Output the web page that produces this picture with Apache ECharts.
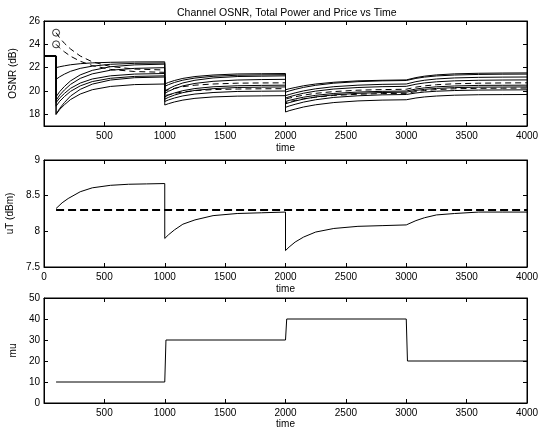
<!DOCTYPE html>
<html>
<head>
<meta charset="utf-8">
<script src="https://cdn.jsdelivr.net/npm/echarts@6/dist/echarts.min.js"></script>
<style>
  html, body { margin: 0; padding: 0; background: #fff; }
  #chart { width: 539px; height: 430px; }
</style>
</head>
<body>
<div id="chart"></div>
<script>
const osnrTime = [0, 100, 100, 130, 170, 220, 300, 400, 550, 750, 1000,
  1000, 1030, 1080, 1150, 1250, 1400, 1600, 1800, 2000,
  2000, 2030, 2080, 2150, 2250, 2400, 2600, 2800, 3000,
  3080, 3150, 3250, 3400, 3600, 3800, 4000];
const osnrCh1 = [23, 23, 22.0, 22.08, 22.16, 22.25, 22.34, 22.41, 22.46, 22.49, 22.5,
  20.6, 20.73, 20.9, 21.08, 21.24, 21.37, 21.46, 21.48, 21.5,
  20.1, 20.19, 20.3, 20.45, 20.6, 20.75, 20.87, 20.92, 20.95,
  21.15, 21.27, 21.38, 21.47, 21.52, 21.54, 21.55];
const osnrCh2 = [23, 23, 21.0, 21.22, 21.45, 21.69, 21.94, 22.13, 22.29, 22.37, 22.4,
  20.4, 20.54, 20.73, 20.93, 21.11, 21.26, 21.35, 21.38, 21.4,
  19.9, 20.0, 20.14, 20.31, 20.49, 20.67, 20.8, 20.87, 20.9,
  21.08, 21.19, 21.29, 21.37, 21.42, 21.44, 21.45];
const osnrCh3 = [23, 23, 19.5, 19.95, 20.4, 20.87, 21.38, 21.77, 22.08, 22.24, 22.3,
  20.0, 20.18, 20.43, 20.69, 20.92, 21.12, 21.24, 21.27, 21.3,
  19.6, 19.7, 19.84, 20.01, 20.19, 20.37, 20.5, 20.57, 20.6,
  20.8, 20.92, 21.03, 21.12, 21.17, 21.19, 21.2];
const osnrCh4 = [23, 23, 19.2, 19.65, 20.1, 20.57, 21.08, 21.47, 21.78, 21.94, 22.0,
  19.8, 19.97, 20.2, 20.44, 20.65, 20.83, 20.94, 20.98, 21.0,
  19.4, 19.5, 19.64, 19.81, 19.99, 20.17, 20.3, 20.37, 20.4,
  20.58, 20.69, 20.79, 20.87, 20.92, 20.94, 20.95];
const osnrCh5 = [23, 23, 19.0, 19.4, 19.8, 20.23, 20.68, 21.03, 21.3, 21.45, 21.5,
  19.5, 19.64, 19.83, 20.03, 20.21, 20.36, 20.45, 20.48, 20.5,
  19.1, 19.19, 19.32, 19.47, 19.63, 19.79, 19.91, 19.97, 20.0,
  20.17, 20.27, 20.36, 20.43, 20.48, 20.49, 20.5];
const osnrCh6 = [23, 23, 18.7, 19.12, 19.53, 19.97, 20.44, 20.81, 21.09, 21.25, 21.3,
  19.3, 19.45, 19.65, 19.86, 20.05, 20.2, 20.3, 20.33, 20.35,
  18.9, 19.0, 19.14, 19.31, 19.49, 19.67, 19.8, 19.87, 19.9,
  20.05, 20.14, 20.22, 20.29, 20.33, 20.34, 20.35];
const osnrCh7 = [23, 23, 18.0, 18.51, 19.02, 19.57, 20.14, 20.59, 20.94, 21.14, 21.2,
  19.1, 19.23, 19.4, 19.58, 19.74, 19.87, 19.96, 19.98, 20.0,
  18.6, 18.71, 18.86, 19.05, 19.25, 19.45, 19.59, 19.67, 19.7,
  19.83, 19.91, 19.98, 20.04, 20.08, 20.09, 20.1];
const osnrCh8 = [23, 23, 18.0, 18.42, 18.83, 19.27, 19.74, 20.11, 20.39, 20.55, 20.6,
  18.8, 18.91, 19.06, 19.22, 19.37, 19.49, 19.56, 19.58, 19.6,
  18.2, 18.31, 18.45, 18.63, 18.82, 19.01, 19.15, 19.22, 19.25,
  19.4, 19.49, 19.57, 19.64, 19.68, 19.69, 19.7];
// dashed channels, starting at the circles
const osnrDash1 = [null, null, 25.0, 24.55, 24.08, 23.6, 23.0, 22.5, 22.1, 21.88, 21.8,
  20.0, 20.1, 20.23, 20.37, 20.5, 20.6, 20.67, 20.69, 20.7,
  19.3, 19.39, 19.5, 19.65, 19.8, 19.95, 20.07, 20.12, 20.15,
  20.33, 20.44, 20.54, 20.62, 20.67, 20.69, 20.7];
const osnrDash2 = [null, null, 24.0, 23.68, 23.35, 22.98, 22.55, 22.18, 21.85, 21.67, 21.6,
  19.6, 19.68, 19.8, 19.92, 20.03, 20.12, 20.17, 20.19, 20.2,
  19.0, 19.08, 19.19, 19.33, 19.47, 19.62, 19.72, 19.78, 19.8,
  19.95, 20.04, 20.12, 20.19, 20.23, 20.24, 20.25];
const circleTime = [100, 100];
const circleOsnr = [25.0, 24.0];
const osnrTicks = [18, 20, 22, 24, 26];

// total power
const powerTime = [100, 150, 200, 300, 400, 550, 700, 850, 1000,
  1000, 1030, 1080, 1150, 1250, 1400, 1600, 1800, 2000,
  2000, 2030, 2080, 2150, 2250, 2400, 2600, 2800, 3000,
  3080, 3150, 3250, 3400, 3600, 3800, 4000];
const powerUT = [8.32, 8.40, 8.46, 8.555, 8.61, 8.645, 8.66, 8.665, 8.67,
  7.9, 7.95, 8.02, 8.10, 8.16, 8.22, 8.25, 8.26, 8.27,
  7.73, 7.78, 7.85, 7.92, 7.99, 8.04, 8.07, 8.08, 8.09,
  8.15, 8.19, 8.23, 8.25, 8.27, 8.27, 8.27];
const targetTime = [100, 4000];
const targetUT = [8.3, 8.3];

// price
const priceTime = [100, 1000, 1010, 2000, 2010, 3000, 3010, 4000];
const priceMu = [10, 10, 30, 30, 40, 40, 20, 20];

const FONT = 'Liberation Sans';
const grids = [
  { left: 44, top: 21, width: 483, height: 105 },
  { left: 44, top: 160, width: 483, height: 107 },
  { left: 44, top: 298, width: 483, height: 105 }
].map(g => Object.assign(g, { outerBoundsMode: 'none', show: true, borderColor: '#000', borderWidth: 1 }));
const xNameGaps = [17, 17, 14];
const yRanges = [
  { min: 17, max: 26, name: 'OSNR (dB)', gap: 21, ticks: osnrTicks },
  { min: 7.5, max: 9, interval: 0.5, name: 'uT (dBm)', gap: 23 },
  { min: 0, max: 50, interval: 10, name: 'mu', gap: 20 }
];

const plain = v => String(v);
const xAxes = [], yAxes = [];
[0, 1, 2].forEach(g => {
  xAxes.push({
    type: 'value', gridIndex: g, min: 0, max: 4000, interval: 500,
    axisLine: { onZero: false, lineStyle: { color: '#000', width: 1 } },
    axisTick: { inside: true, length: 4, lineStyle: { color: '#000', width: 1 } },
    axisLabel: { color: '#000', fontSize: 10, fontFamily: FONT, margin: 5, showMinLabel: g === 1, formatter: plain },
    splitLine: { show: false },
    name: 'time', nameLocation: 'middle', nameGap: xNameGaps[g],
    nameTextStyle: { color: '#000', fontSize: 10, fontFamily: FONT }
  });
});
[0, 1, 2].forEach(g => {
  xAxes.push({
    type: 'value', gridIndex: g, position: 'top', min: 0, max: 4000, interval: 500,
    axisLine: { show: true, onZero: false, lineStyle: { color: '#000', width: 1 } },
    axisTick: { show: true, inside: true, length: 4, lineStyle: { color: '#000', width: 1 } },
    axisLabel: { show: false },
    splitLine: { show: false }
  });
});
['left', 'right'].forEach(pos => {
  yRanges.forEach((r, g) => {
    const ax = {
      type: 'value', gridIndex: g, position: pos, min: r.min, max: r.max,
      axisLine: { show: true, onZero: false, lineStyle: { color: '#000', width: 1 } },
      axisTick: { show: true, inside: true, length: 4, lineStyle: { color: '#000', width: 1 } },
      axisLabel: { show: pos === 'left', color: '#000', fontSize: 10, fontFamily: FONT, margin: 4, formatter: plain },
      splitLine: { show: false }
    };
    if (r.ticks) {
      ax.axisTick.customValues = r.ticks;
      ax.axisLabel.customValues = r.ticks;
    } else {
      ax.interval = r.interval;
    }
    if (pos === 'left') {
      ax.name = r.name;
      ax.nameLocation = 'middle';
      ax.nameGap = r.gap;
      ax.nameTextStyle = { color: '#000', fontSize: 10, fontFamily: FONT };
    }
    yAxes.push(ax);
  });
});

function pairs(xs, ys) {
  return xs.map((x, i) => [x, ys[i]]);
}
function line(g, xs, ys, style) {
  return {
    type: 'line', xAxisIndex: g, yAxisIndex: g, data: pairs(xs, ys),
    symbol: 'none', silent: true, connectNulls: false,
    lineStyle: Object.assign({ color: '#000', width: 1 }, style || {})
  };
}

const series = [];
[osnrCh1, osnrCh2, osnrCh3, osnrCh4, osnrCh5, osnrCh6, osnrCh7, osnrCh8].forEach(ch => {
  series.push(line(0, osnrTime, ch));
});
[osnrDash1, osnrDash2].forEach(ch => {
  series.push(line(0, osnrTime, ch, { type: [6, 4] }));
});
series.push({
  type: 'scatter', xAxisIndex: 0, yAxisIndex: 0, data: pairs(circleTime, circleOsnr),
  symbol: 'circle', symbolSize: 7, silent: true, z: 5,
  itemStyle: { color: 'rgba(0,0,0,0)', borderColor: '#000', borderWidth: 1 }
});
series.push(line(1, powerTime, powerUT));
series.push(line(1, targetTime, targetUT, { type: [8, 4], width: 2 }));
series.push(line(2, priceTime, priceMu));

const chart = echarts.init(document.getElementById('chart'));
chart.setOption({
  animation: false,
  backgroundColor: '#fff',
  title: {
    text: 'Channel OSNR, Total Power and Price vs Time',
    left: 172, top: 3,
    textStyle: { color: '#000', fontSize: 10.5, fontWeight: 'normal', fontFamily: FONT }
  },
  grid: grids,
  xAxis: xAxes,
  yAxis: yAxes,
  series: series
});
</script>
</body>
</html>
